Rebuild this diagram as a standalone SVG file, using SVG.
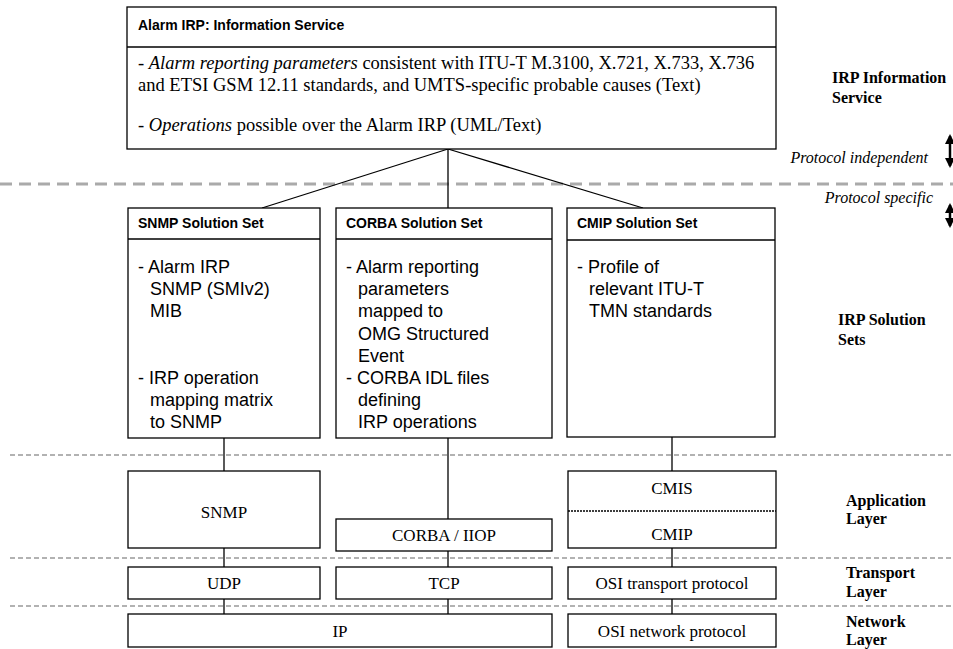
<svg xmlns="http://www.w3.org/2000/svg" width="953" height="649" viewBox="0 0 953 649">
<style>
.box{fill:#fff;stroke:#000;stroke-width:1.3}
.sep{stroke:#000;stroke-width:1.3}
.hd{font-family:"Liberation Sans",Arial,sans-serif;font-weight:bold;font-size:14px;fill:#000}
.bd{font-family:"Liberation Sans",Arial,sans-serif;font-size:18px;fill:#000}
.sf{font-family:"Liberation Serif","Times New Roman",serif;font-size:18.5px;fill:#000}
.pr{font-family:"Liberation Serif","Times New Roman",serif;font-size:17px;fill:#000;text-anchor:middle}
.lb{font-family:"Liberation Serif","Times New Roman",serif;font-size:16px;font-weight:bold;fill:#000}
.it{font-family:"Liberation Serif","Times New Roman",serif;font-size:16px;font-style:italic;fill:#000;text-anchor:end}
.conn{stroke:#000;stroke-width:1.3;fill:none}
.bigdash{stroke:#aaa;stroke-width:3;stroke-dasharray:12 7;fill:none}
.dash{stroke:#999;stroke-width:1.5;stroke-dasharray:5 3;fill:none}
.arr{stroke:#000;stroke-width:2.5;fill:none;marker-start:url(#ah);marker-end:url(#ah)}
</style>
<defs>
<marker id="ah" viewBox="0 0 10 10" refX="8" refY="5" markerWidth="4" markerHeight="4" orient="auto-start-reverse" markerUnits="strokeWidth">
<path d="M0,0 L10,5 L0,10 z" fill="#000"/>
</marker>
</defs>

<g id="layer-lines">
<line class="bigdash" x1="0" y1="184" x2="953" y2="184"/>
<line class="dash" x1="10" y1="455" x2="953" y2="455"/>
<line class="dash" x1="10" y1="558" x2="953" y2="558"/>
<line class="dash" x1="10" y1="606" x2="953" y2="606"/>
</g>

<g id="connectors">
<line class="conn" x1="448" y1="149" x2="262" y2="208"/>
<line class="conn" x1="448" y1="149" x2="448" y2="208"/>
<line class="conn" x1="448" y1="149" x2="643" y2="208"/>
<line class="conn" x1="224" y1="438" x2="224" y2="471"/>
<line class="conn" x1="448" y1="438" x2="448" y2="519"/>
<line class="conn" x1="672" y1="437" x2="672" y2="471"/>
<line class="conn" x1="224" y1="548" x2="224" y2="567"/>
<line class="conn" x1="448" y1="551" x2="448" y2="567"/>
<line class="conn" x1="672" y1="548" x2="672" y2="567"/>
<line class="conn" x1="224" y1="599" x2="224" y2="614"/>
<line class="conn" x1="448" y1="599" x2="448" y2="614"/>
<line class="conn" x1="672" y1="599" x2="672" y2="614"/>
</g>

<g id="alarm-irp-is">
<rect class="box" x="127" y="7" width="649" height="142"/>
<line class="sep" x1="127" y1="47" x2="776" y2="47"/>
<text class="hd" x="138" y="30">Alarm IRP: Information Service</text>
<text class="sf" x="138" y="69">- <tspan font-style="italic">Alarm reporting parameters</tspan> consistent with ITU-T M.3100, X.721, X.733, X.736</text>
<text class="sf" x="138" y="91">and ETSI GSM 12.11 standards, and UMTS-specific probable causes (Text)</text>
<text class="sf" x="138" y="131">- <tspan font-style="italic">Operations</tspan> possible over the Alarm IRP (UML/Text)</text>
</g>

<g id="snmp-ss">
<rect class="box" x="128" y="208" width="192" height="230"/>
<line class="sep" x1="128" y1="239" x2="320" y2="239"/>
<text class="hd" x="138" y="228">SNMP Solution Set</text>
<text class="bd" x="138" y="273">- Alarm IRP</text>
<text class="bd" x="150" y="295">SNMP (SMIv2)</text>
<text class="bd" x="150" y="317">MIB</text>
<text class="bd" x="138" y="384">- IRP operation</text>
<text class="bd" x="150" y="406">mapping matrix</text>
<text class="bd" x="150" y="428">to SNMP</text>
</g>

<g id="corba-ss">
<rect class="box" x="336" y="208" width="216" height="230"/>
<line class="sep" x1="336" y1="239" x2="552" y2="239"/>
<text class="hd" x="346" y="228">CORBA Solution Set</text>
<text class="bd" x="346" y="273">- Alarm reporting</text>
<text class="bd" x="358" y="295">parameters</text>
<text class="bd" x="358" y="317">mapped to</text>
<text class="bd" x="358" y="340">OMG Structured</text>
<text class="bd" x="358" y="362">Event</text>
<text class="bd" x="346" y="384">- CORBA IDL files</text>
<text class="bd" x="358" y="406">defining</text>
<text class="bd" x="358" y="428">IRP operations</text>
</g>

<g id="cmip-ss">
<rect class="box" x="567" y="208" width="208" height="229"/>
<line class="sep" x1="567" y1="240" x2="775" y2="240"/>
<text class="hd" x="577" y="228">CMIP Solution Set</text>
<text class="bd" x="577" y="273">- Profile of</text>
<text class="bd" x="589" y="295">relevant ITU-T</text>
<text class="bd" x="589" y="317">TMN standards</text>
</g>

<g id="snmp">
<rect class="box" x="128" y="471" width="192" height="77"/>
<text class="pr" x="224" y="518">SNMP</text>
</g>
<g id="corba-iiop">
<rect class="box" x="336" y="519" width="216" height="32"/>
<text class="pr" x="444" y="541">CORBA / IIOP</text>
</g>
<g id="cmis-cmip">
<rect class="box" x="568" y="471" width="208" height="77"/>
<line x1="568" y1="511" x2="776" y2="511" stroke="#000" stroke-width="1.3" stroke-dasharray="2 1"/>
<text class="pr" x="672" y="494">CMIS</text>
<text class="pr" x="672" y="540">CMIP</text>
</g>
<g id="udp">
<rect class="box" x="128" y="567" width="192" height="32"/>
<text class="pr" x="224" y="589">UDP</text>
</g>
<g id="tcp">
<rect class="box" x="336" y="567" width="216" height="32"/>
<text class="pr" x="444" y="589">TCP</text>
</g>
<g id="osi-transport">
<rect class="box" x="568" y="567" width="208" height="32"/>
<text class="pr" x="672" y="589">OSI transport protocol</text>
</g>
<g id="ip">
<rect class="box" x="128" y="614" width="424" height="33"/>
<text class="pr" x="340" y="637">IP</text>
</g>
<g id="osi-network">
<rect class="box" x="568" y="614" width="208" height="33"/>
<text class="pr" x="672" y="637">OSI network protocol</text>
</g>

<g id="labels">
<text class="lb" x="832" y="83">IRP Information</text>
<text class="lb" x="832" y="103">Service</text>
<text class="it" x="928" y="163">Protocol independent</text>
<text class="it" x="933" y="203">Protocol specific</text>
<text class="lb" x="838" y="325">IRP Solution</text>
<text class="lb" x="838" y="345">Sets</text>
<text class="lb" x="846" y="506">Application</text>
<text class="lb" x="846" y="524">Layer</text>
<text class="lb" x="846" y="578">Transport</text>
<text class="lb" x="846" y="597">Layer</text>
<text class="lb" x="846" y="627">Network</text>
<text class="lb" x="846" y="645">Layer</text>
</g>

<g id="arrows">
<line class="arr" x1="950" y1="136" x2="950" y2="166"/>
<line class="arr" x1="950" y1="205" x2="950" y2="226"/>
</g>
</svg>
